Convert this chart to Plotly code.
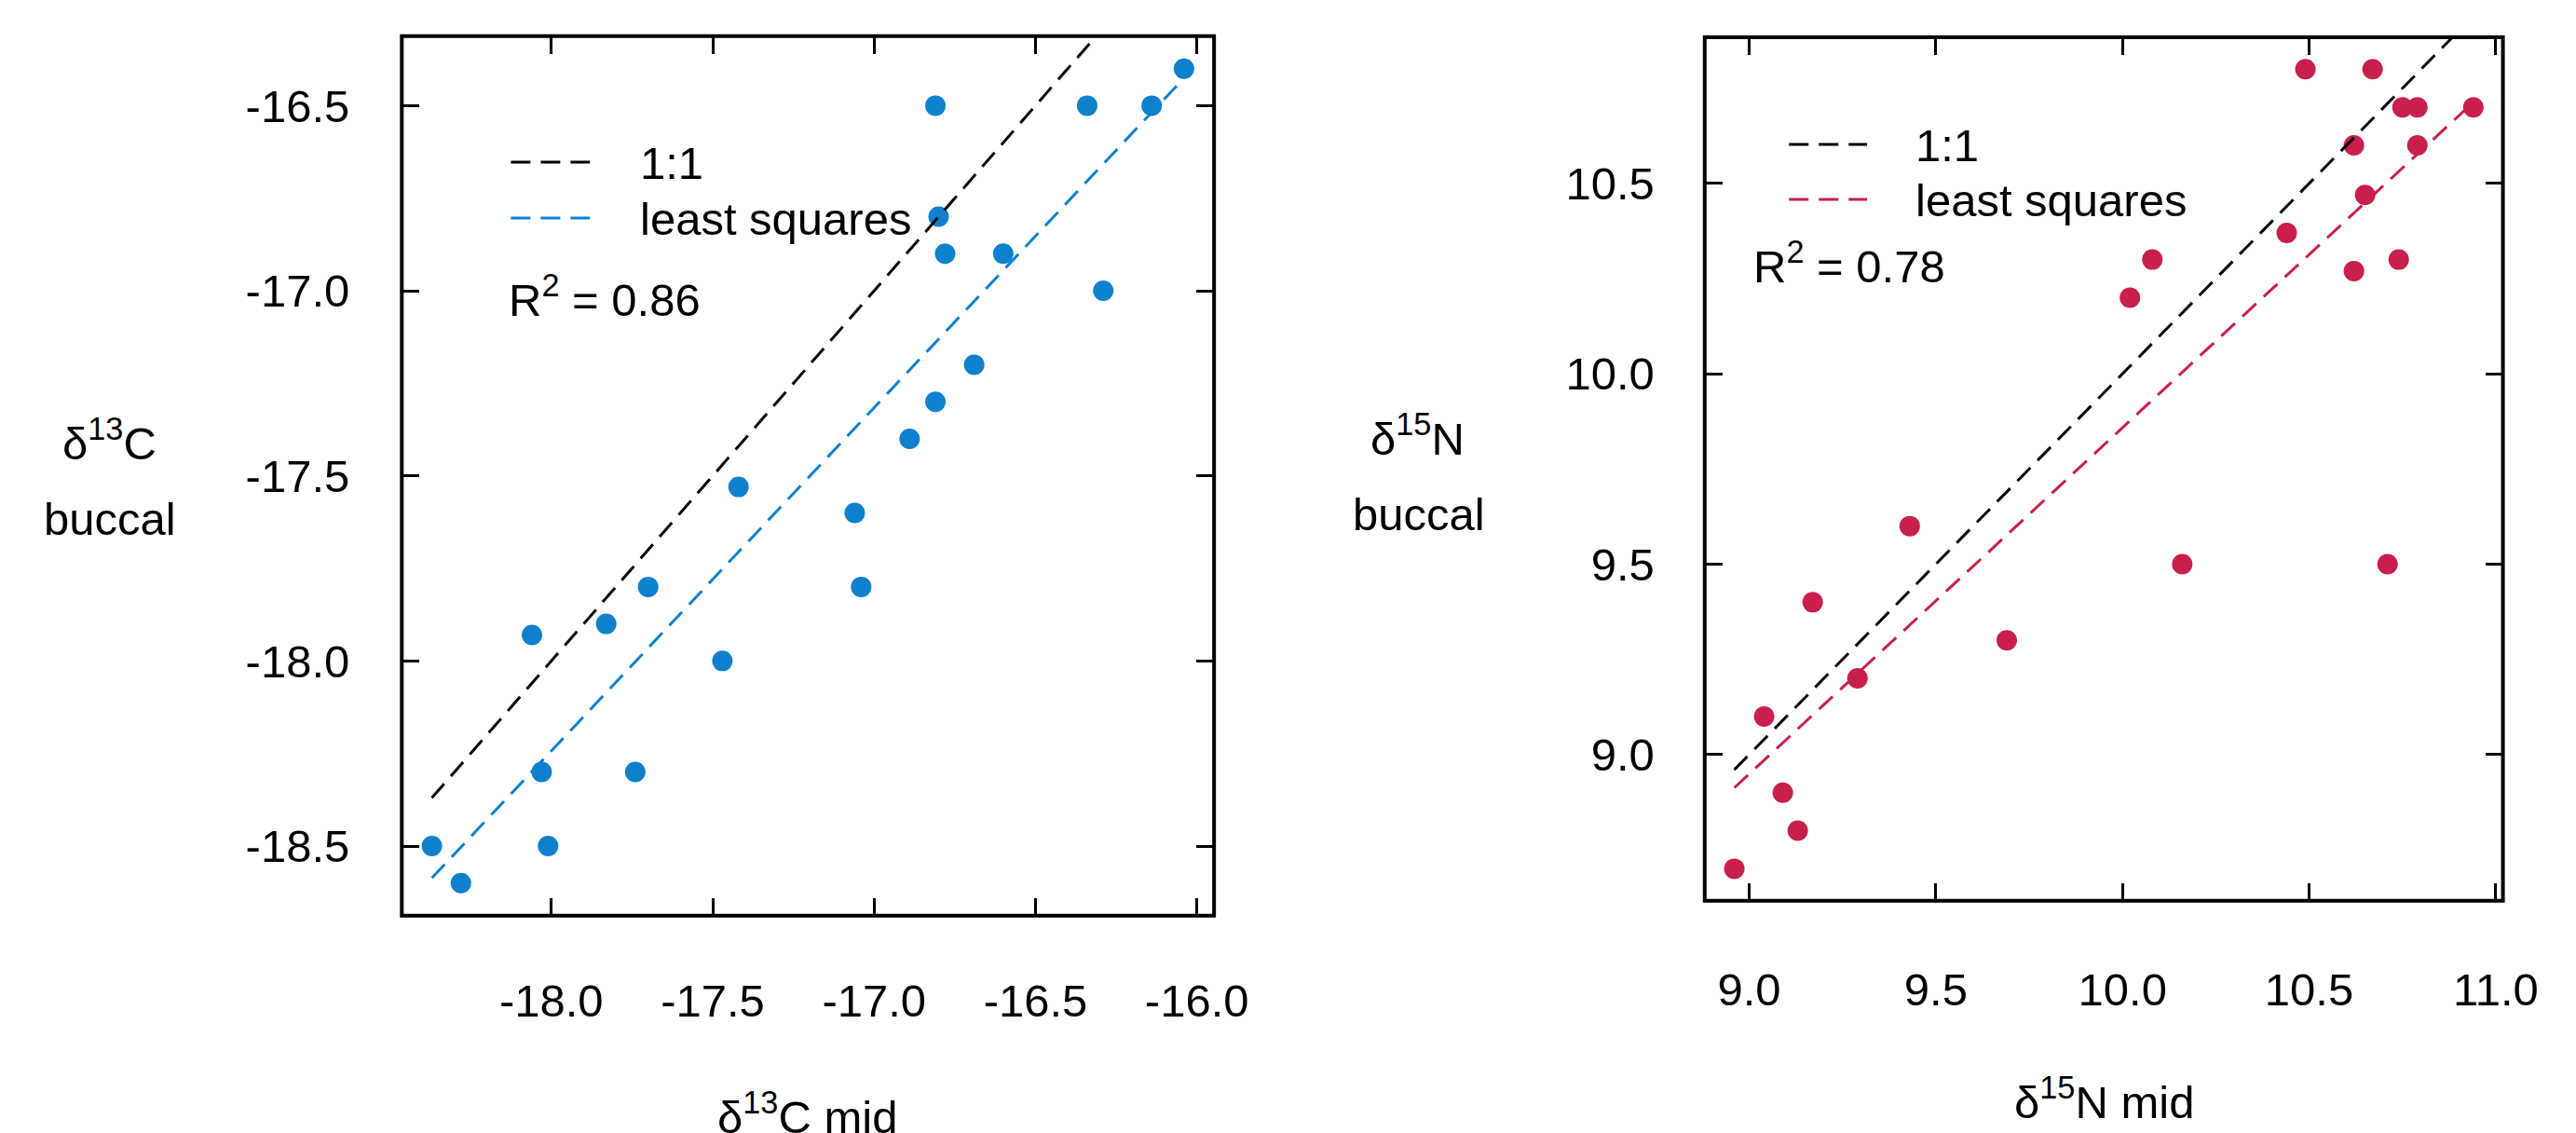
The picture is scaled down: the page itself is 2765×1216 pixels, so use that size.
import numpy as np
import plotly.graph_objects as go

W, H = 2765, 1216

# ---------------- data ----------------
c13_mid = [-18.37, -18.28, -18.06, -18.03, -18.01, -17.83, -17.70, -17.74, -17.47, -17.42,
           -17.06, -17.04, -16.89, -16.81, -16.69, -16.81, -16.80, -16.78, -16.60, -16.34,
           -16.29, -16.14, -16.04]
c13_buccal = [-18.5, -18.6, -17.93, -18.3, -18.5, -17.9, -17.8, -18.3, -18.0, -17.53,
              -17.6, -17.8, -17.4, -17.3, -17.2, -16.5, -16.8, -16.9, -16.9, -16.5,
              -17.0, -16.5, -16.4]
n15_mid = [8.96, 9.04, 9.09, 9.13, 9.17, 9.29, 9.43, 9.69, 10.02, 10.08,
           10.16, 10.44, 10.49, 10.62, 10.62, 10.65, 10.67, 10.71, 10.74, 10.75,
           10.79, 10.79, 10.94]
n15_buccal = [8.7, 9.1, 8.9, 8.8, 9.4, 9.2, 9.6, 9.3, 10.2, 10.3,
              9.5, 10.37, 10.8, 10.6, 10.27, 10.47, 10.8, 9.5, 10.3, 10.7,
              10.7, 10.6, 10.7]

c13_xticks = [-18.0, -17.5, -17.0, -16.5, -16.0]
c13_xticktext = ["-18.0", "-17.5", "-17.0", "-16.5", "-16.0"]
c13_yticks = [-18.5, -18.0, -17.5, -17.0, -16.5]
c13_yticktext = ["-18.5", "-18.0", "-17.5", "-17.0", "-16.5"]
n15_xticks = [9.0, 9.5, 10.0, 10.5, 11.0]
n15_xticktext = ["9.0", "9.5", "10.0", "10.5", "11.0"]
n15_yticks = [9.0, 9.5, 10.0, 10.5]
n15_yticktext = ["9.0", "9.5", "10.0", "10.5"]

r2_c13 = "0.86"
r2_n15 = "0.78"

BLUE = "#0E80CE"
RED = "#C81F4C"
FONT = "Liberation Sans, Arial, sans-serif"
FS = 49


def px_x(p):
    return p / W


def px_y(p):
    return 1 - p / H


def rrange(v):
    lo, hi = min(v), max(v)
    d = (hi - lo) * 0.04
    return [lo - d, hi + d]


fig = go.Figure()


def panel(xa, ya, x, y, col):
    xs = [min(x), max(x)]
    fig.add_trace(go.Scatter(x=x, y=y, mode="markers", xaxis=xa, yaxis=ya,
                             marker=dict(size=22, color=col, line=dict(width=0)),
                             showlegend=False, hoverinfo="skip"))
    fig.add_trace(go.Scatter(x=xs, y=xs, mode="lines", xaxis=xa, yaxis=ya,
                             line=dict(color="black", width=3, dash="20px,11px"),
                             showlegend=False, hoverinfo="skip"))
    b, a = np.polyfit(np.array(x), np.array(y), 1)
    fig.add_trace(go.Scatter(x=xs, y=[a + b * xs[0], a + b * xs[1]], mode="lines",
                             xaxis=xa, yaxis=ya,
                             line=dict(color=col, width=3, dash="20px,11px"),
                             showlegend=False, hoverinfo="skip"))


panel("x", "y", c13_mid, c13_buccal, BLUE)
panel("x2", "y2", n15_mid, n15_buccal, RED)

# panel borders (pixel positions of the reference)
L = dict(x0=437.3, x1=1321.3, y0=38.7, y1=982.7)
R = dict(x0=1855.3, x1=2724.0, y0=40.0, y1=966.7)

axcommon = dict(ticks="inside", ticklen=19, tickwidth=3, tickcolor="black",
                mirror="ticks", showline=False, showgrid=False, zeroline=False,
                tickfont=dict(size=FS, family=FONT, color="black"), tickmode="array")

fig.update_layout(
    width=W, height=H, margin=dict(l=0, r=0, t=0, b=0),
    paper_bgcolor="white", plot_bgcolor="white",
    font=dict(family=FONT, size=FS, color="black"),
    xaxis=dict(domain=[px_x(L["x0"]), px_x(L["x1"])], range=rrange(c13_mid), anchor="y",
               tickvals=c13_xticks, ticktext=c13_xticktext, ticklabelstandoff=58, **axcommon),
    yaxis=dict(domain=[px_y(L["y1"]), px_y(L["y0"])], range=rrange(c13_buccal), anchor="x",
               tickvals=c13_yticks, ticktext=c13_yticktext, ticklabelstandoff=55, **axcommon),
    xaxis2=dict(domain=[px_x(R["x0"]), px_x(R["x1"])], range=rrange(n15_mid), anchor="y2",
                tickvals=n15_xticks, ticktext=n15_xticktext, ticklabelstandoff=62, **axcommon),
    yaxis2=dict(domain=[px_y(R["y1"]), px_y(R["y0"])], range=rrange(n15_buccal), anchor="x2",
                tickvals=n15_yticks, ticktext=n15_yticktext, ticklabelstandoff=53, **axcommon),
)

shapes = []
for xr, yr in (("x domain", "y domain"), ("x2 domain", "y2 domain")):
    shapes.append(dict(type="rect", xref=xr, yref=yr, x0=0, x1=1, y0=0, y1=1,
                       line=dict(color="black", width=4), layer="above"))


def legline(x0, x1, y, col):
    shapes.append(dict(type="line", xref="paper", yref="paper",
                       x0=px_x(x0), x1=px_x(x1), y0=px_y(y), y1=px_y(y),
                       line=dict(color=col, width=3, dash="21px,11px")))


legline(556, 642, 174, "black")
legline(556, 642, 234, BLUE)
legline(1947, 2032, 155, "black")
legline(1947, 2032, 214, RED)
fig.update_layout(shapes=shapes)

ann = []


def txt(x, y, s, xanchor="left"):
    ann.append(dict(x=px_x(x), y=px_y(y), xref="paper", yref="paper", text=s,
                    showarrow=False, xanchor=xanchor, yanchor="middle",
                    font=dict(size=FS, family=FONT, color="black")))


# legends
txt(695, 175, "1:1")
txt(695, 235, "least squares")
txt(552, 318, "R<sup>2</sup> = " + r2_c13)
txt(2083, 156, "1:1")
txt(2083, 215, "least squares")
txt(1906, 282, "R<sup>2</sup> = " + r2_n15)

# axis titles
txt(119, 472, "δ<sup>13</sup>C", "center")
txt(120, 557, "buccal", "center")
txt(1543, 467, "δ<sup>15</sup>N", "center")
txt(1544, 552, "buccal", "center")
txt(879, 1195, "δ<sup>13</sup>C mid", "center")
txt(2290, 1179, "δ<sup>15</sup>N mid", "center")

fig.update_layout(annotations=ann)

fig.write_html("out.html")
